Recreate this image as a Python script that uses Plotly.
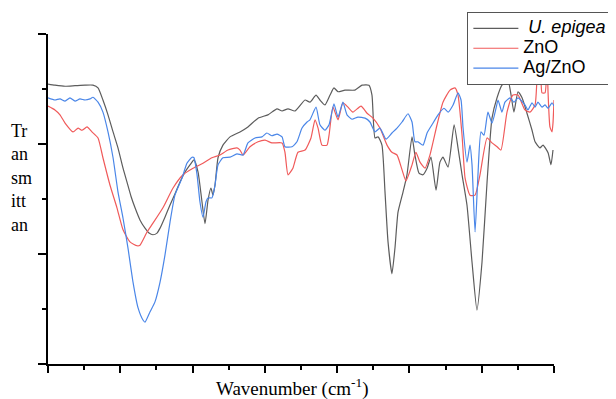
import plotly.graph_objects as go

# Wavenumber (cm-1) and transmittance (a.u.)
ue_wn = [4000, 3952, 3882, 3813, 3744, 3689, 3654, 3620, 3585, 3550, 3516, 3481, 3454, 3426, 3398,
         3364, 3329, 3301, 3274, 3246, 3225, 3191, 3156, 3122, 3087, 3052, 3018, 2990, 2962, 2949,
         2935, 2914, 2893, 2873, 2859, 2845, 2824, 2790, 2741, 2672, 2617, 2547, 2479, 2416, 2381,
         2340, 2292, 2222, 2188, 2146, 2119, 2084, 2049, 2022, 1994, 1946, 1877, 1828, 1780, 1759,
         1738, 1717, 1690, 1669, 1648, 1621, 1600, 1579, 1544, 1517, 1482, 1462, 1434, 1406, 1378,
         1351, 1316, 1289, 1268, 1233, 1191, 1164, 1136, 1102, 1067, 1033, 998, 963, 929, 894,
         860, 818, 797, 777, 749, 721, 687, 652, 631, 597, 576, 541, 521, 507]
ue_t = [50.9, 50.7, 50.5, 50.6, 50.7, 50.7, 50.2, 48.0, 45.3, 42.2, 39.3, 35.6, 33.1, 30.5, 28.4,
        26.2, 24.7, 23.8, 23.5, 23.8, 24.7, 26.7, 28.9, 30.9, 33.1, 34.9, 36.2, 37.1, 34.9, 32.5,
        29.5, 25.5, 29.8, 32.0, 30.7, 32.5, 37.5, 39.8, 41.3, 42.2, 43.1, 44.7, 45.3, 46.4, 46.0,
        46.4, 46.0, 48.0, 47.6, 48.9, 48.0, 47.1, 48.9, 50.2, 49.5, 49.8, 49.8, 50.7, 50.7, 48.9,
        41.1, 41.3, 39.8, 31.3, 22.2, 16.4, 21.1, 27.6, 31.3, 34.4, 41.3, 38.0, 34.7, 34.4, 35.6,
        37.6, 31.6, 36.7, 37.6, 35.8, 43.5, 39.3, 34.4, 28.9, 18.5, 9.8, 18.5, 33.1, 44.7, 48.4,
        50.7, 51.5, 48.9, 45.8, 49.5, 48.4, 45.6, 42.5, 40.4, 39.3, 39.8, 38.4, 36.2, 38.9]

zno_wn = [4000, 3952, 3917, 3882, 3827, 3792, 3765, 3730, 3696, 3654, 3620, 3571, 3523, 3481, 3433,
          3384, 3364, 3315, 3274, 3205, 3135, 3066, 2997, 2928, 2866, 2810, 2755, 2693, 2672, 2651,
          2603, 2547, 2499, 2451, 2381, 2361, 2340, 2306, 2271, 2222, 2181, 2153, 2132, 2105, 2070,
          2056, 2029, 1994, 1960, 1925, 1891, 1835, 1793, 1752, 1704, 1655, 1621, 1586, 1551, 1524,
          1482, 1455, 1427, 1392, 1358, 1309, 1268, 1219, 1185, 1164, 1136, 1115, 1081, 1046, 1012,
          963, 929, 894, 867, 825, 784, 749, 701, 666, 631, 618, 604, 590, 583, 562, 548, 541, 528,
          514, 507, 500]
zno_t = [46.9, 46.2, 45.3, 43.8, 42.2, 42.9, 42.5, 43.1, 42.2, 41.1, 37.5, 32.5, 28.4, 24.4, 22.2,
         21.5, 21.6, 24.0, 25.6, 28.4, 32.0, 34.4, 35.6, 36.5, 37.5, 38.0, 38.9, 39.3, 38.9, 38.0,
         39.5, 40.4, 40.7, 40.2, 40.2, 38.5, 34.4, 35.6, 38.5, 38.9, 41.1, 44.4, 42.9, 39.8, 39.8,
         41.6, 46.7, 44.4, 47.5, 46.7, 45.8, 46.9, 45.6, 44.7, 42.9, 39.8, 38.5, 38.0, 35.3, 33.3,
         36.2, 38.5, 36.7, 35.6, 38.0, 43.5, 47.6, 49.8, 50.2, 48.9, 41.6, 33.8, 30.7, 30.7, 34.4,
         41.1, 40.2, 39.5, 38.9, 45.8, 48.9, 48.9, 46.2, 45.8, 47.1, 51.6, 55.3, 51.6, 49.3, 49.3, 55.3, 49.3, 43.1,
         42.2, 43.8, 48.0]

agzno_wn = [4000, 3952, 3917, 3882, 3848, 3813, 3779, 3744, 3709, 3689, 3654, 3620, 3585, 3550, 3516,
            3481, 3447, 3412, 3377, 3343, 3329, 3294, 3260, 3225, 3191, 3156, 3122, 3073, 3039, 3004,
            2990, 2969, 2949, 2928, 2907, 2893, 2866, 2845, 2824, 2790, 2741, 2693, 2651, 2617, 2568,
            2520, 2486, 2451, 2416, 2381, 2361, 2312, 2278, 2243, 2208, 2188, 2146, 2119, 2084, 2056,
            2022, 1994, 1960, 1932, 1897, 1856, 1807, 1773, 1738, 1704, 1662, 1621, 1586, 1551, 1510,
            1482, 1462, 1441, 1406, 1378, 1344, 1302, 1261, 1233, 1198, 1164, 1143, 1129, 1102, 1081,
            1067, 1046, 1026, 1005, 984, 957, 929, 901, 887, 860, 839, 804, 777, 749, 701, 680, 652,
            631, 611, 583, 562, 541, 514, 500]
agzno_t = [48.4, 48.0, 48.2, 47.8, 48.4, 47.8, 48.2, 48.0, 48.2, 48.5, 47.6, 45.8, 42.2, 37.5, 31.3,
           26.5, 21.1, 14.9, 10.2, 8.0, 7.6, 9.5, 11.3, 14.9, 19.8, 25.8, 30.7, 33.8, 36.5, 37.6,
           37.5, 34.4, 29.5, 26.7, 29.5, 30.2, 30.2, 32.5, 36.2, 37.5, 37.6, 38.2, 38.0, 40.2, 41.1,
           41.3, 42.0, 41.5, 41.8, 41.3, 39.5, 39.5, 40.4, 42.9, 44.0, 44.4, 46.7, 43.5, 42.5, 43.5,
           47.3, 44.9, 47.6, 45.3, 44.5, 44.9, 44.7, 44.0, 42.2, 42.9, 40.9, 42.0, 42.9, 44.0, 45.5,
           44.0, 40.4, 40.4, 39.8, 42.0, 43.5, 45.3, 46.5, 45.8, 47.1, 49.3, 48.0, 42.9, 36.7, 39.8,
           36.2, 24.0, 34.4, 42.2, 41.6, 45.8, 43.8, 46.5, 48.0, 45.8, 47.6, 48.4, 47.6, 48.4, 47.1, 46.2, 47.5,
           46.7, 47.6, 46.7, 47.1, 46.5, 47.5, 46.9]

series_names = ["<i> U. epigea</i>", "ZnO", "Ag/ZnO"]
series_colors = ["#5c5c5c", "#f05a5a", "#4a86e8"]

fig = go.Figure()
for wn, t, name, col in [(ue_wn, ue_t, series_names[0], series_colors[0]),
                         (zno_wn, zno_t, series_names[1], series_colors[1]),
                         (agzno_wn, agzno_t, series_names[2], series_colors[2])]:
    fig.add_trace(go.Scatter(x=wn, y=t, mode="lines",
                             name='<span style="font-size:18px">' + name + "</span>",
                             line=dict(color=col, width=1.2, shape="spline", smoothing=0.5)))

fig.update_layout(
    width=616, height=399,
    margin=dict(l=40, r=70, t=26, b=43, autoexpand=False),
    paper_bgcolor="white", plot_bgcolor="white",
    showlegend=True,
    legend=dict(x=0.828, y=1.0667, xanchor="left", yanchor="top",
                bgcolor="white", bordercolor="#555555", borderwidth=1.4,
                font=dict(family="Liberation Sans, Arial", size=13, color="black"),
                tracegroupgap=0, itemwidth=45),
    xaxis=dict(range=[4000, 500], showgrid=False, zeroline=False,
               showline=True, linecolor="black", linewidth=2,
               ticks="outside", ticklen=7, tickwidth=2, tickcolor="black",
               tick0=500, dtick=500, showticklabels=False,
               minor=dict(ticks="outside", ticklen=4, tickwidth=1.5, tickcolor="black", dtick=250)),
    yaxis=dict(range=[0, 60], showgrid=False, zeroline=False,
               showline=True, linecolor="black", linewidth=2,
               ticks="outside", ticklen=8, tickwidth=2, tickcolor="black",
               tick0=0, dtick=20, showticklabels=False,
               minor=dict(ticks="outside", ticklen=4, tickwidth=1.5, tickcolor="black", dtick=10)),
    annotations=[
        dict(text="Wavenumber (cm<sup>-1</sup>)", xref="paper", yref="paper",
             x=0.483, y=-0.072, xanchor="center", yanchor="middle", showarrow=False,
             font=dict(family="Liberation Serif, Times New Roman", size=19, color="black")),
        dict(text="Tr<br>an<br>sm<br>itt<br>an", xref="paper", yref="paper",
             x=-0.077, y=0.564, xanchor="left", yanchor="middle", align="left", showarrow=False,
             font=dict(family="Liberation Serif, Times New Roman", size=18, color="black")),
    ],
)

fig.write_html("out.html")
